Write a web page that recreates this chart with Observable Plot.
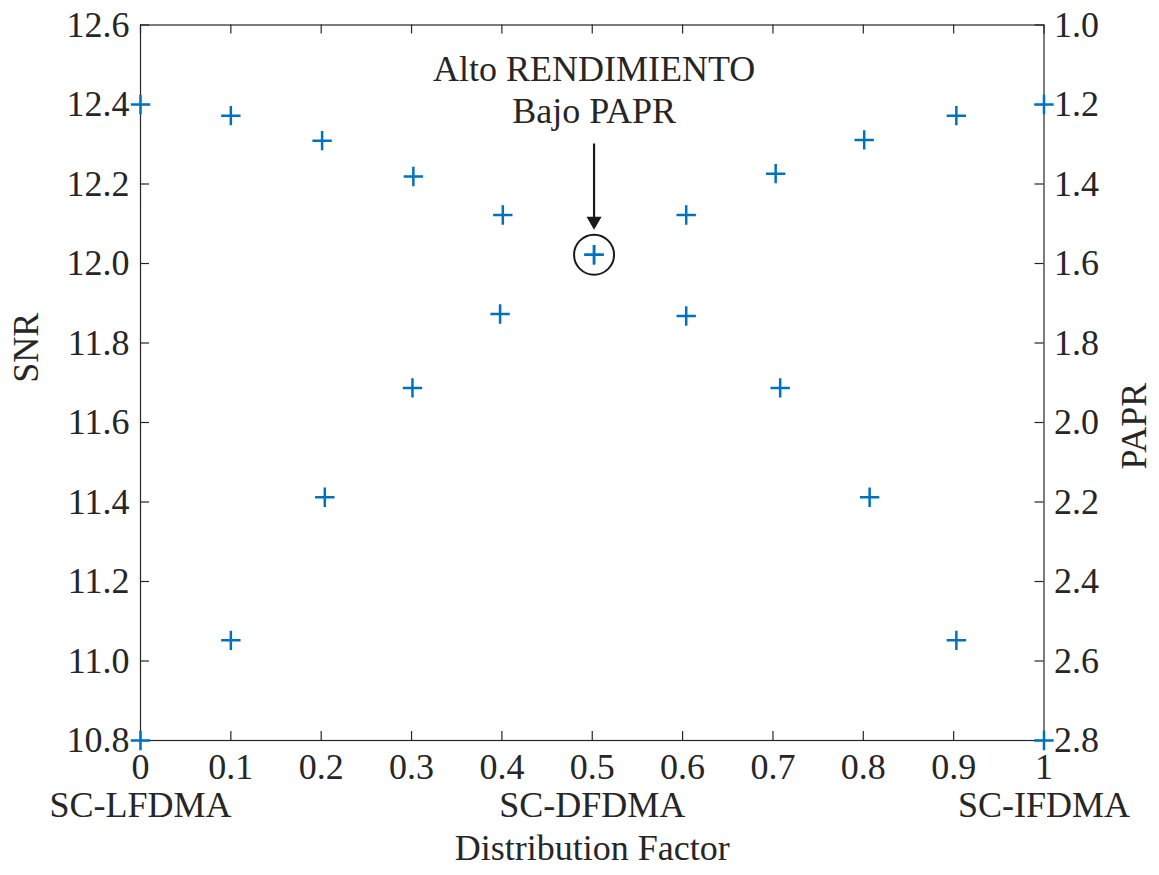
<!DOCTYPE html>
<html>
<head>
<meta charset="utf-8">
<script src="https://cdn.jsdelivr.net/npm/d3@7"></script>
<script src="https://cdn.jsdelivr.net/npm/@observablehq/plot@0.6"></script>
<style>
  html, body { margin: 0; padding: 0; background: #ffffff; }
  #chart svg { display: block; }
</style>
</head>
<body>
<div id="chart"></div>
<script>
// ---- Data ----
const distFactorSNR  = [0, 0.100, 0.201, 0.302, 0.401, 0.502, 0.604, 0.703, 0.801, 0.903, 1];
const snrValues      = [12.400, 12.372, 12.309, 12.219, 12.122, 12.022, 12.122, 12.226, 12.311, 12.372, 12.400];
const distFactorPAPR = [0, 0.100, 0.204, 0.301, 0.398, 0.502, 0.604, 0.708, 0.807, 0.903, 1];
const paprValues     = [2.800, 2.548, 2.188, 1.913, 1.727, 1.578, 1.732, 1.913, 2.188, 2.548, 2.800];

const xTicks      = [0, 0.1, 0.2, 0.3, 0.4, 0.5, 0.6, 0.7, 0.8, 0.9, 1];
const xTickLabels = ["0", "0.1", "0.2", "0.3", "0.4", "0.5", "0.6", "0.7", "0.8", "0.9", "1"];
const snrTicks      = [10.8, 11.0, 11.2, 11.4, 11.6, 11.8, 12.0, 12.2, 12.4, 12.6];
const snrTickLabels = ["10.8", "11.0", "11.2", "11.4", "11.6", "11.8", "12.0", "12.2", "12.4", "12.6"];
const paprTicks      = [1.0, 1.2, 1.4, 1.6, 1.8, 2.0, 2.2, 2.4, 2.6, 2.8];
const paprTickLabels = ["1.0", "1.2", "1.4", "1.6", "1.8", "2.0", "2.2", "2.4", "2.6", "2.8"];

const schemeNames = ["SC-LFDMA", "SC-DFDMA", "SC-IFDMA"];
const schemeX     = [0, 0.5, 1];

const annotationLines = ["Alto RENDIMIENTO", "Bajo PAPR"];
const highlightIndex = 5;

const snrDomain  = [10.8, 12.6];
const paprDomain = [2.8, 1.0];   // right axis, reversed

// ---- Helpers ----
const paprToSnr = p => snrDomain[0] + (p - paprDomain[0]) * (snrDomain[1] - snrDomain[0]) / (paprDomain[1] - paprDomain[0]);

const snrData  = distFactorSNR.map((x, i) => ({x, y: snrValues[i]}));
const paprData = distFactorPAPR.map((x, i) => ({x, y: paprToSnr(paprValues[i])}));
const highlight = [{x: distFactorSNR[highlightIndex], y: snrValues[highlightIndex]}];
const paprTickPos = paprTicks.map(paprToSnr);

const W = 1159, H = 875;
const mL = 140, mR = 115.5, mT = 24.5, mB = 135;
const frameW = W - mL - mR, frameH = H - mT - mB;
const tickLen = 9;
const axisColor = "#262626";
const textColor = "#262626";
const markerColor = "#0072BD";
const fontSize = 36;

const downTriangle = {
  draw(ctx, size) {
    const s = Math.sqrt(size * 4 / Math.sqrt(3));
    const h = s * Math.sqrt(3) / 2;
    ctx.moveTo(0, 2 * h / 3);
    ctx.lineTo(-s / 2, -h / 3);
    ctx.lineTo(s / 2, -h / 3);
    ctx.closePath();
  }
};

const chart = Plot.plot({
  width: W,
  height: H,
  marginLeft: mL,
  marginRight: mR,
  marginTop: mT,
  marginBottom: mB,
  style: {
    fontFamily: "'Liberation Serif', 'Times New Roman', serif",
    fontSize: fontSize + "px",
    color: textColor,
    background: "#ffffff"
  },
  x: {domain: [0, 1]},
  y: {domain: snrDomain},
  marks: [
    Plot.frame({stroke: axisColor, strokeWidth: 1.2}),
    // inward ticks: bottom, top, left, right
    Plot.tickX(xTicks, {x: d => d, insetTop: frameH - tickLen, stroke: axisColor, strokeWidth: 1.2}),
    Plot.tickX(xTicks, {x: d => d, insetBottom: frameH - tickLen, stroke: axisColor, strokeWidth: 1.2}),
    Plot.tickY(snrTicks, {y: d => d, insetRight: frameW - tickLen, stroke: axisColor, strokeWidth: 1.2}),
    Plot.tickY(paprTickPos, {y: d => d, insetLeft: frameW - tickLen, stroke: axisColor, strokeWidth: 1.2}),
    // tick labels
    Plot.axisX({ticks: xTicks, tickSize: 0, tickPadding: 13, tickFormat: (d, i) => xTickLabels[i], label: null, fill: textColor}),
    Plot.axisY({anchor: "left", ticks: snrTicks, tickSize: 0, tickPadding: 11, tickFormat: (d, i) => snrTickLabels[i], label: null, fill: textColor}),
    Plot.axisY({anchor: "right", ticks: paprTickPos, tickSize: 0, tickPadding: 10, tickFormat: (d, i) => paprTickLabels[i], label: null, fill: textColor}),
    // scheme names under the x axis
    Plot.text(schemeNames, {x: (d, i) => schemeX[i], text: d => d, frameAnchor: "bottom", dy: 76, fill: textColor}),
    // axis titles
    Plot.text(["Distribution Factor"], {text: d => d, frameAnchor: "bottom", dy: 119, fill: textColor}),
    Plot.text(["SNR"], {text: d => d, frameAnchor: "left", dx: -114.3, rotate: -90, fill: textColor}),
    Plot.text(["PAPR"], {text: d => d, frameAnchor: "right", dx: 90.5, rotate: -90, fill: textColor}),
    // data
    Plot.dot(snrData, {x: "x", y: "y", symbol: "plus", r: 6.3, stroke: markerColor, strokeWidth: 2.5}),
    Plot.dot(paprData, {x: "x", y: "y", symbol: "plus", r: 6.3, stroke: markerColor, strokeWidth: 2.5}),
    // annotation
    Plot.dot(highlight, {x: "x", y: "y", r: 20, stroke: "#1a1a1a", strokeWidth: 2, fill: "none"}),
    Plot.ruleX(highlight, {x: "x", y1: snrDomain[1], y2: "y", insetTop: 119, insetBottom: 37, stroke: "#1a1a1a", strokeWidth: 2.2}),
    Plot.dot(highlight, {x: "x", y: "y", symbol: downTriangle, r: 5.6, dy: -33.7, fill: "#1a1a1a", stroke: "none"}),
    Plot.text(highlight, {x: "x", y: "y", text: () => annotationLines.join("\n"), lineHeight: 1.17, dy: -166, fill: textColor})
  ]
});

document.getElementById("chart").appendChild(chart);
</script>
</body>
</html>
